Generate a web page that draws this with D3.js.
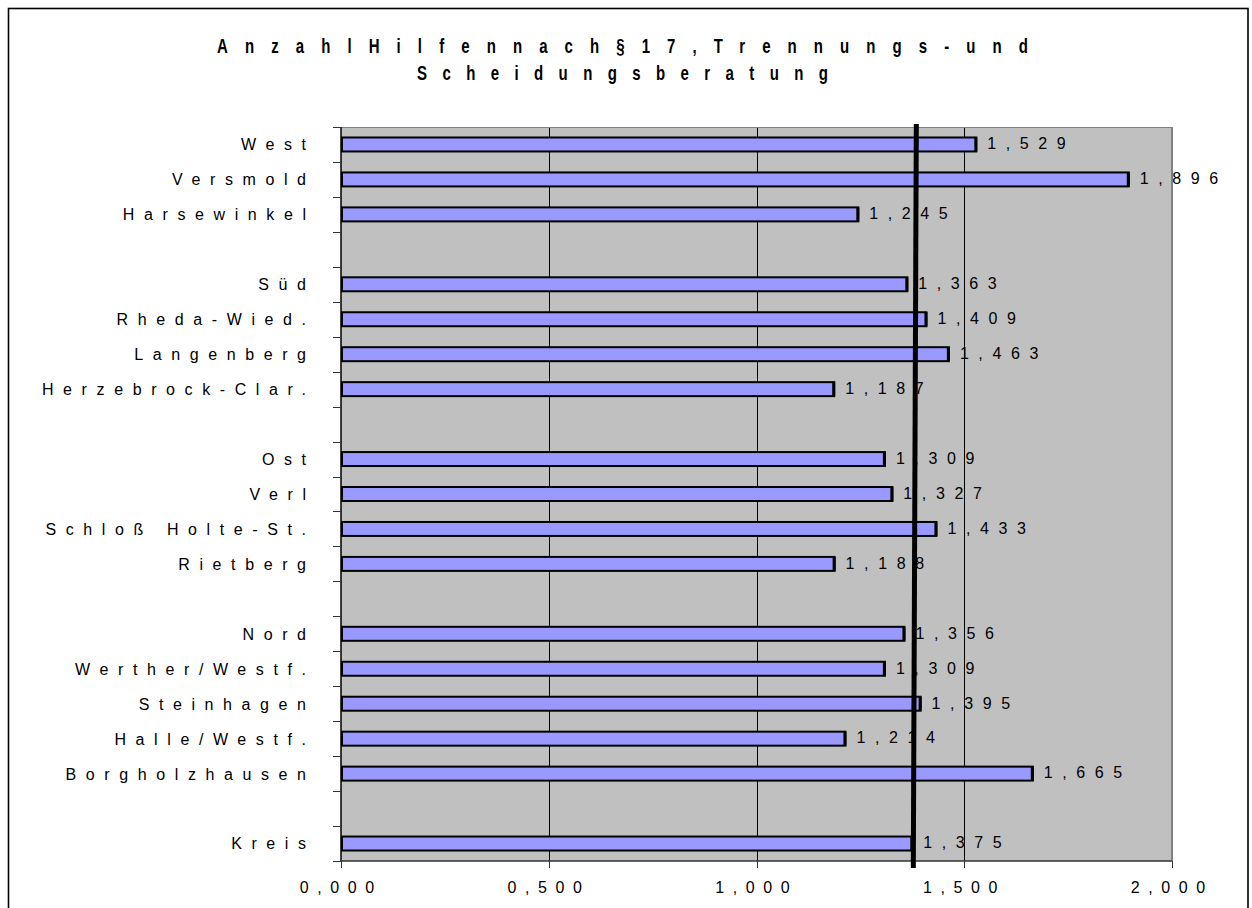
<!DOCTYPE html>
<html>
<head>
<meta charset="utf-8">
<script src="https://cdn.jsdelivr.net/npm/d3@7"></script>
<style>
  html, body { margin: 0; padding: 0; background: #fff; }
  svg { display: block; }
  text { font-family: Arial, "Liberation Sans", sans-serif; fill: #000; }
</style>
</head>
<body>
<svg id="chart" width="1252" height="908"></svg>
<script>
// ---- data ----
const titleLines = ["Anzahl Hilfen nach § 17, Trennungs- und", "Scheidungsberatung"];
const categories = ["West", "Versmold", "Harsewinkel", null,
  "Süd", "Rheda-Wied.", "Langenberg", "Herzebrock-Clar.", null,
  "Ost", "Verl", "Schloß Holte-St.", "Rietberg", null,
  "Nord", "Werther/Westf.", "Steinhagen", "Halle/Westf.", "Borgholzhausen", null,
  "Kreis"];
const values = [1.529, 1.896, 1.245, null,
  1.363, 1.409, 1.463, 1.187, null,
  1.309, 1.327, 1.433, 1.188, null,
  1.356, 1.309, 1.395, 1.214, 1.665, null,
  1.375];
const xTicks = [0, 0.5, 1.0, 1.5, 2.0];
const xDomain = [0, 2];
const referenceValue = 1.375; // Kreis

// ---- layout ----
const svg = d3.select("#chart");
const plot = { left: 341, right: 1172, top: 127, bottom: 861 };
const fmt = v => d3.format(".3f")(v).replace(".", ",");

const x = d3.scaleLinear().domain(xDomain).range([plot.left, plot.right]);
const idx = d3.range(categories.length);
const y = d3.scaleBand().domain(idx).range([plot.top, plot.bottom])
  .paddingInner(0.6).paddingOuter(0.3);
const yb = d3.scaleLinear().domain([0, categories.length]).range([plot.top, plot.bottom]);

// outer frame
svg.append("rect").attr("x", 8.5).attr("y", 8.5).attr("width", 1239.5).attr("height", 920)
  .attr("fill", "none").attr("stroke", "#000").attr("stroke-width", 1.6);

// title: evenly spaced glyphs, word spaces collapsed to one gap
const tg = svg.append("g");
const titleBox = [{ x0: 217, w: 811, y: 53 }, { x0: 417, w: 411, y: 80 }];
const probe = tg.append("text").attr("font-size", 15).attr("font-weight", "bold").attr("x", -1000).attr("y", -1000);
const spaceW = (() => {
  probe.text("a a"); const a = probe.node().getComputedTextLength();
  probe.text("aa"); const b = probe.node().getComputedTextLength();
  return a - b;
})();
probe.remove();
titleLines.forEach((t, i) => {
  const b = titleBox[i];
  const el = tg.append("text")
    .attr("transform", `translate(${b.x0},${b.y}) scale(1,1.32)`)
    .attr("font-size", 15).attr("font-weight", "bold")
    .attr("word-spacing", -spaceW)
    .text(t);
  const w0 = el.node().getComputedTextLength();
  const nGlyph = t.replace(/ /g, "").length;
  const L = (b.w - w0) / (nGlyph - 1);
  el.attr("letter-spacing", L).attr("word-spacing", -(spaceW + L));
});

// plot background
svg.append("rect").attr("x", plot.left).attr("y", plot.top)
  .attr("width", plot.right - plot.left).attr("height", plot.bottom - plot.top)
  .attr("fill", "#C0C0C0");

// gridlines
svg.append("g").selectAll("line").data(xTicks.filter(t => t > 0 && t < xDomain[1])).join("line")
  .attr("x1", d => Math.round(x(d)) + 0.5).attr("x2", d => Math.round(x(d)) + 0.5)
  .attr("y1", plot.top).attr("y2", plot.bottom)
  .attr("stroke", "#000").attr("stroke-width", 1);

// plot border top/right (gray)
svg.append("line").attr("x1", plot.left).attr("x2", plot.right).attr("y1", plot.top + 0.5).attr("y2", plot.top + 0.5)
  .attr("stroke", "#808080").attr("stroke-width", 1);
svg.append("line").attr("x1", plot.right).attr("x2", plot.right).attr("y1", plot.top).attr("y2", plot.bottom)
  .attr("stroke", "#808080").attr("stroke-width", 2);

// bars
const data = idx.filter(i => values[i] != null).map(i => ({ i, name: categories[i], v: values[i] }));
svg.append("g").selectAll("rect").data(data).join("rect")
  .attr("x", x(0) + 1).attr("y", d => y(d.i))
  .attr("width", d => x(d.v) - x(0) - 1).attr("height", y.bandwidth())
  .attr("fill", "#9999FF").attr("stroke", "#000").attr("stroke-width", 2);
// darker right end of bars
svg.append("g").selectAll("line").data(data).join("line")
  .attr("x1", d => x(d.v) - 0.5).attr("x2", d => x(d.v) - 0.5)
  .attr("y1", d => y(d.i)).attr("y2", d => y(d.i) + y.bandwidth())
  .attr("stroke", "#000").attr("stroke-width", 3);

// y axis line + ticks at slot boundaries
svg.append("line").attr("x1", plot.left).attr("x2", plot.left).attr("y1", plot.top).attr("y2", plot.bottom)
  .attr("stroke", "#000").attr("stroke-width", 1.5);
svg.append("g").selectAll("line").data(d3.range(categories.length + 1)).join("line")
  .attr("x1", plot.left - 8).attr("x2", plot.left)
  .attr("y1", d => Math.round(yb(d)) + 0.5).attr("y2", d => Math.round(yb(d)) + 0.5)
  .attr("stroke", "#333").attr("stroke-width", 1);

// x axis line + ticks
svg.append("line").attr("x1", plot.left).attr("x2", plot.right).attr("y1", plot.bottom).attr("y2", plot.bottom)
  .attr("stroke", "#333").attr("stroke-width", 1.5);
svg.append("g").selectAll("line").data(xTicks).join("line")
  .attr("x1", d => Math.round(x(d)) + 0.5).attr("x2", d => Math.round(x(d)) + 0.5)
  .attr("y1", plot.bottom).attr("y2", plot.bottom + 7)
  .attr("stroke", "#333").attr("stroke-width", 1);

const LS = 9.6;
const LSX = 8.6;
// x tick labels
svg.append("g").selectAll("text").data(xTicks).join("text")
  .attr("x", d => x(d) - 4 + LSX / 2).attr("y", 893)
  .attr("text-anchor", "middle").attr("font-size", 16)
  .attr("letter-spacing", LSX)
  .text(d => fmt(d));

// category labels
svg.append("g").selectAll("text").data(data).join("text")
  .attr("x", 306 + LS).attr("y", d => y(d.i) + y.bandwidth() / 2)
  .attr("dy", "0.37em")
  .attr("text-anchor", "end").attr("font-size", 16)
  .attr("letter-spacing", LS)
  .text(d => d.name);

// value labels
svg.append("g").selectAll("text").data(data).join("text")
  .attr("x", d => x(d.v) + 11).attr("y", d => y(d.i) + y.bandwidth() / 2)
  .attr("dy", "0.3em")
  .attr("font-size", 16)
  .attr("letter-spacing", LS)
  .text(d => fmt(d.v));

// reference line (Kreis)
svg.append("line")
  .attr("x1", x(referenceValue) + 4).attr("x2", x(referenceValue) + 1)
  .attr("y1", plot.top - 3).attr("y2", plot.bottom + 7)
  .attr("stroke", "#000").attr("stroke-width", 5);
</script>
</body>
</html>
